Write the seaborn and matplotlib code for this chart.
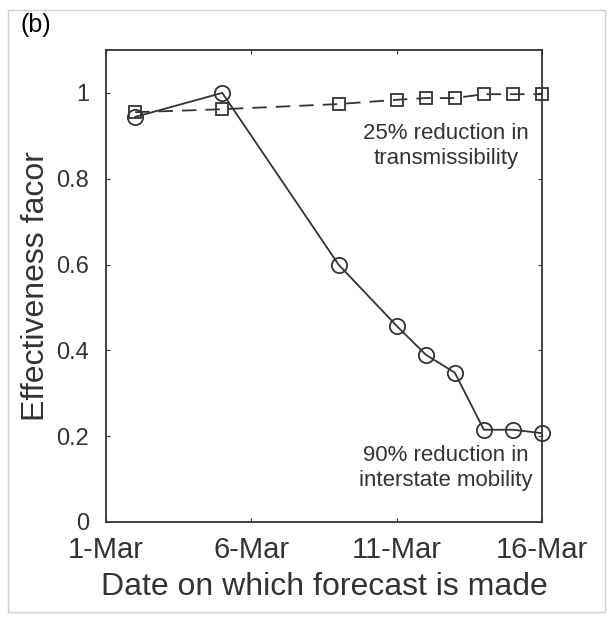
import matplotlib
matplotlib.use("Agg")
import matplotlib.pyplot as plt
import seaborn as sns
import pandas as pd

# forecast dates (day of March)
days = [2, 5, 9, 11, 12, 13, 14, 15, 16]
mobility = [0.944, 1.0, 0.60, 0.457, 0.39, 0.348, 0.215, 0.215, 0.207]
transmiss = [0.955, 0.962, 0.974, 0.984, 0.988, 0.988, 0.997, 0.997, 0.997]
tick_days = [1, 6, 11, 16]
tick_labels = ['1-Mar', '6-Mar', '11-Mar', '16-Mar']

sns.set_style("ticks")
plt.rcParams['font.family'] = ['Liberation Sans', 'DejaVu Sans']

df = pd.DataFrame({'day': days, 'mob': mobility, 'tr': transmiss})

fig = plt.figure(figsize=(6.13, 6.32), dpi=100)
ax = fig.add_axes([106 / 613, 1 - 522 / 632, 436 / 613, 472 / 632])

ink = '#333333'
sns.lineplot(data=df, x='day', y='mob', ax=ax, color=ink, lw=1.3, marker='o',
             markersize=11, markerfacecolor='none', markeredgecolor=ink, markeredgewidth=1.3,
             clip_on=False)
sns.lineplot(data=df, x='day', y='tr', ax=ax, color=ink, lw=1.3, marker='s',
             markersize=9, markerfacecolor='none', markeredgecolor=ink, markeredgewidth=1.3,
             linestyle=(0, (8, 5)), clip_on=False)

ax.set_xlim(1, 16)
ax.set_ylim(0, 1.1)
ax.set_xticks(tick_days)
ax.set_xticklabels(tick_labels)
ax.set_yticks([0, 0.2, 0.4, 0.6, 0.8, 1])
ax.set_yticklabels(['0', '0.2', '0.4', '0.6', '0.8', '1'])
ax.tick_params(axis='both', colors=ink, direction='in', length=3,
               top=True, right=True)
ax.tick_params(axis='x', labelsize=21, pad=10)
ax.tick_params(axis='y', labelsize=17, pad=12)
for s in ax.spines.values():
    s.set_color(ink)
    s.set_linewidth(1.3)
ax.set_xlabel('Date on which forecast is made', fontsize=23, color=ink, labelpad=6)
ax.set_ylabel('Effectiveness facor', fontsize=23, color=ink, labelpad=4)

ax.text(12.7, 0.877, '25% reduction in\ntransmissibility', fontsize=16, color=ink,
        ha='center', va='center', linespacing=1.25)
ax.text(12.7, 0.125, '90% reduction in\ninterstate mobility', fontsize=16, color=ink,
        ha='center', va='center', linespacing=1.25)

fig.text(20 / 613, 1 - 25 / 632, '(b)', fontsize=18, color='black', ha='left', va='center')
fig.add_artist(plt.Rectangle((8 / 613, 20 / 632), 597 / 613, 602 / 632, fill=False,
                             edgecolor='#d0d0d0', lw=1, transform=fig.transFigure))

fig.savefig('out.png', dpi=100)
